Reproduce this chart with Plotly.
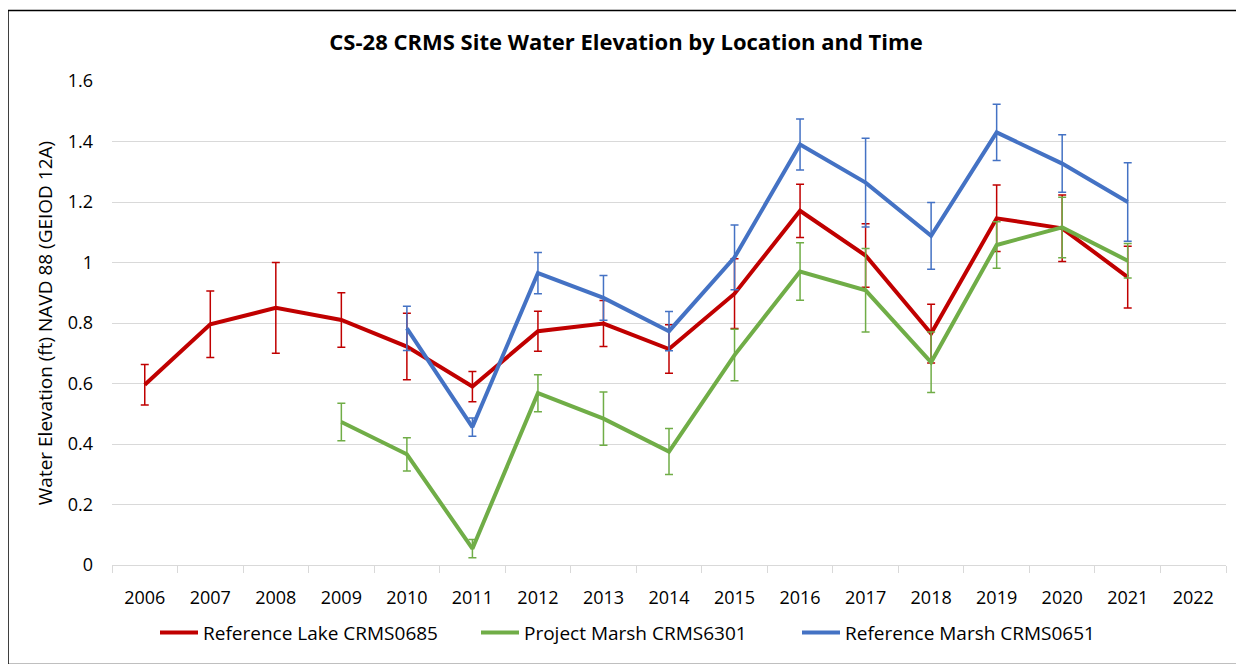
import plotly.graph_objects as go

years = list(range(2006, 2023))

lake_years = list(range(2006, 2022))
lake_vals = [0.596, 0.796, 0.850, 0.810, 0.722, 0.590, 0.773, 0.798, 0.714, 0.897, 1.171, 1.023, 0.765, 1.146, 1.113, 0.952]
lake_err = [0.067, 0.110, 0.150, 0.090, 0.110, 0.050, 0.066, 0.076, 0.080, 0.115, 0.088, 0.105, 0.097, 0.110, 0.110, 0.102]

proj_years = list(range(2009, 2022))
proj_vals = [0.473, 0.366, 0.054, 0.568, 0.484, 0.375, 0.694, 0.970, 0.908, 0.670, 1.058, 1.116, 1.006]
proj_err = [0.062, 0.055, 0.030, 0.061, 0.088, 0.076, 0.085, 0.095, 0.138, 0.100, 0.077, 0.100, 0.057]

ref_years = list(range(2010, 2022))
ref_vals = [0.782, 0.456, 0.965, 0.883, 0.773, 1.017, 1.390, 1.264, 1.088, 1.430, 1.327, 1.200]
ref_err = [0.073, 0.030, 0.068, 0.074, 0.065, 0.107, 0.084, 0.147, 0.110, 0.093, 0.095, 0.130]

series = [
    ("Reference Lake CRMS0685", lake_years, lake_vals, lake_err, "#C00000"),
    ("Project Marsh CRMS6301", proj_years, proj_vals, proj_err, "#70AD47"),
    ("Reference Marsh CRMS0651", ref_years, ref_vals, ref_err, "#4472C4"),
]

FONT = "Open Sans"
fig = go.Figure()
for name, xs, ys, es, col in series:
    fig.add_trace(go.Scatter(
        x=xs, y=ys, name=name, mode="lines",
        line=dict(color=col, width=4),
        error_y=dict(type="data", array=es, visible=True, color=col, thickness=1.5, width=4),
    ))

# page has an 8px body margin; work in page coordinates and convert
OFF = 8
W, H = 1244 - OFF, 664 - OFF
L, R, T, B = 112 - OFF, 18, 81 - OFF, 96
pw, ph = W - L - R, H - T - B

def px(x_page):
    return (x_page - OFF - L) / pw

def py(y_page):
    return (H - B - (y_page - OFF)) / ph

fig.add_shape(type="rect", xref="paper", yref="paper",
              x0=px(8), x1=px(1240), y0=py(668), y1=py(10),
              line=dict(color="black", width=1.5), fillcolor="rgba(0,0,0,0)", layer="below")

fig.update_layout(
    width=W, height=H,
    margin=dict(l=L, r=R, t=T, b=B),
    paper_bgcolor="white", plot_bgcolor="white",
    font=dict(family=FONT, size=16, color="#000000"),
    title=dict(text="<b>CS-28 CRMS Site Water Elevation by Location and Time</b>",
               x=0.5, xanchor="center", y=1 - (42 - OFF) / H, yanchor="middle",
               font=dict(family=FONT, size=22, color="#000000")),
    showlegend=True,
    legend=dict(orientation="h", x=px(155), xanchor="left", y=py(636), yanchor="middle",
                font=dict(family=FONT, size=19, color="#000000"), itemwidth=38,
                entrywidth=268, bgcolor="rgba(0,0,0,0)"),
)

fig.update_xaxes(
    range=[2005.5, 2022.5], tickvals=years, ticktext=[str(y) for y in years],
    ticks="", showgrid=False, zeroline=False,
    showline=True, linecolor="#D9D9D9", linewidth=1,
    ticklabelstandoff=16,
    tickfont=dict(family=FONT, size=18, color="#000000"),
    minor=dict(tick0=2005.5, dtick=1, ticks="outside", ticklen=7, tickcolor="#D9D9D9", tickwidth=1, showgrid=False),
)
fig.update_yaxes(
    range=[0, 1.6], dtick=0.2, tick0=0,
    showgrid=True, gridcolor="#D9D9D9", gridwidth=1, zeroline=False,
    showline=False, ticks="",
    ticklabelstandoff=18,
    tickfont=dict(family=FONT, size=18, color="#000000"),
    title=dict(text="Water Elevation (ft) NAVD 88 (GEIOD 12A)", standoff=10,
               font=dict(family=FONT, size=19, color="#000000")),
)

fig.write_html("out.html")
